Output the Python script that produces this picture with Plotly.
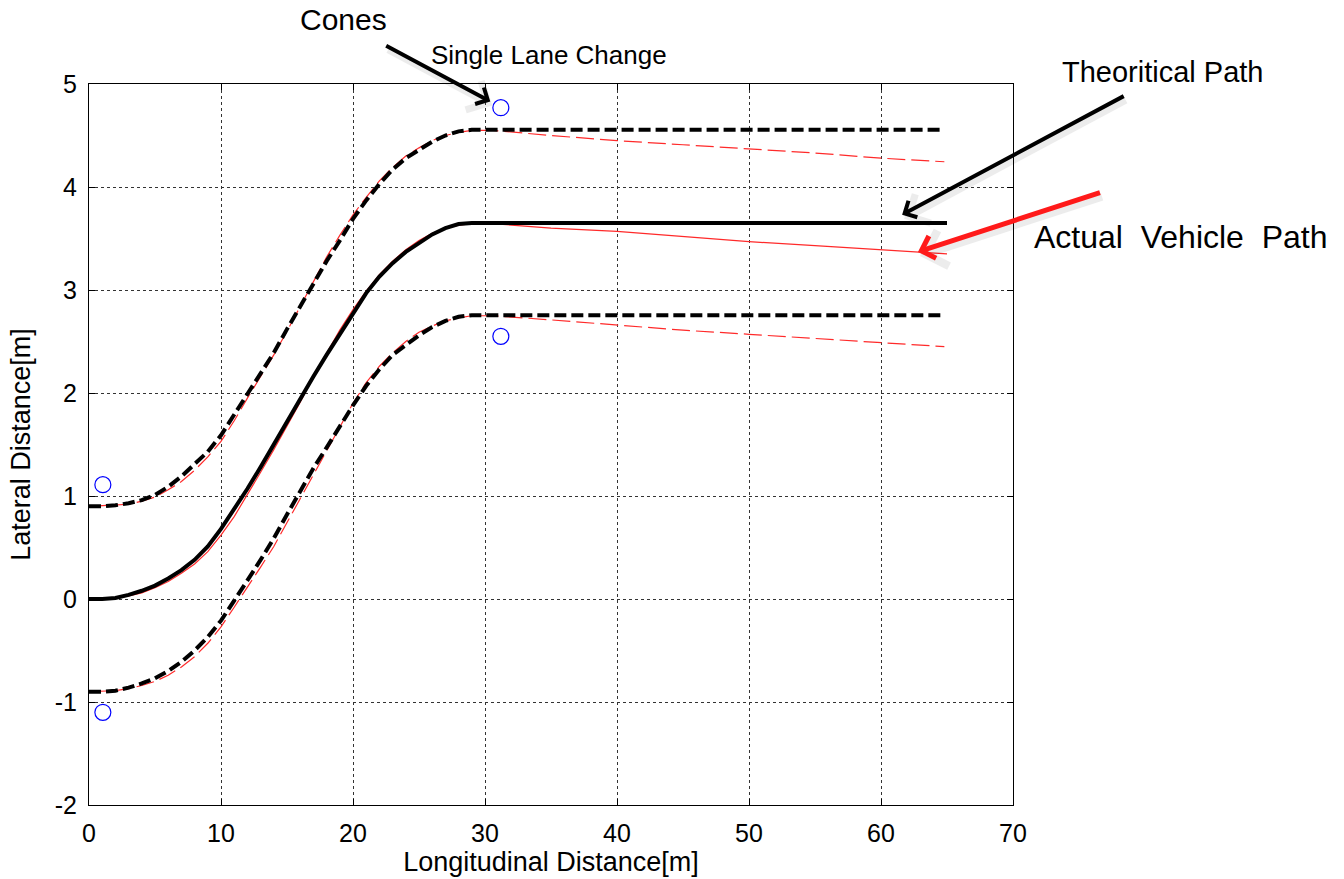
import plotly.graph_objects as go

# Theoretical single-lane-change path (centre line and lane boundaries), metres
theory_x = [0, 1, 2, 3, 4, 5, 6, 7, 8, 9, 10, 11, 12, 13, 14, 15, 16, 17, 18, 19,
            20, 21, 22, 23, 24, 25, 26, 27, 28, 29, 65]
theory_center = [0.00, 0.00, 0.01, 0.04, 0.08, 0.13, 0.20, 0.28, 0.38, 0.51, 0.68,
                 0.87, 1.07, 1.28, 1.50, 1.73, 1.94, 2.16, 2.37, 2.57, 2.78, 2.97,
                 3.13, 3.26, 3.37, 3.46, 3.54, 3.60, 3.64, 3.65, 3.65]

bound_x = [0, 1, 2, 3, 4, 5, 6, 7, 8, 9, 10, 11, 12, 13, 14, 15, 16, 17, 18, 19,
           20, 21, 22, 23, 24, 25, 26, 27, 28, 29, 64.5]
theory_upper = [0.90, 0.90, 0.91, 0.93, 0.96, 1.01, 1.09, 1.19, 1.31, 1.43, 1.59,
                1.79, 2.00, 2.20, 2.39, 2.62, 2.84, 3.06, 3.28, 3.48, 3.69, 3.87,
                4.03, 4.17, 4.28, 4.36, 4.44, 4.50, 4.54, 4.555, 4.555]
theory_lower = [-0.90, -0.90, -0.89, -0.86, -0.82, -0.77, -0.70, -0.61, -0.50, -0.37,
                -0.21, -0.02, 0.18, 0.38, 0.59, 0.82, 1.05, 1.27, 1.47, 1.68, 1.88,
                2.07, 2.23, 2.37, 2.47, 2.56, 2.64, 2.70, 2.74, 2.755, 2.755]

# Measured vehicle path (centre and the matching lane edges), metres
actual_x = [0, 2, 3, 4, 5, 6, 7, 8, 9, 10, 11, 12, 13, 14, 15, 16, 17, 18, 19, 20,
            21, 22, 23, 24, 25, 26, 27, 28, 29, 30, 31, 33, 35, 40, 45, 50, 55, 60, 65]
actual_center = [0.00, 0.01, 0.03, 0.06, 0.11, 0.17, 0.25, 0.34, 0.46, 0.62, 0.80,
                 1.01, 1.23, 1.45, 1.68, 1.91, 2.16, 2.39, 2.61, 2.81, 2.99, 3.15,
                 3.28, 3.39, 3.48, 3.55, 3.60, 3.63, 3.645, 3.65, 3.64, 3.62, 3.60,
                 3.57, 3.52, 3.47, 3.43, 3.39, 3.35]

edge_x = [0, 2, 3, 4, 5, 6, 7, 8, 9, 10, 11, 12, 13, 14, 15, 16, 17, 18, 19, 20,
          21, 22, 23, 24, 25, 26, 27, 28, 29, 30.6, 35, 40, 45, 50, 55, 60, 64.8]
actual_upper = [0.90, 0.91, 0.92, 0.95, 0.99, 1.06, 1.14, 1.25, 1.38, 1.53, 1.73,
                1.95, 2.16, 2.37, 2.60, 2.84, 3.08, 3.32, 3.53, 3.73, 3.90, 4.06,
                4.19, 4.30, 4.38, 4.45, 4.50, 4.53, 4.55, 4.55, 4.50, 4.45, 4.41,
                4.37, 4.33, 4.28, 4.245]
actual_lower = [-0.90, -0.89, -0.87, -0.84, -0.80, -0.74, -0.66, -0.56, -0.43, -0.27,
                -0.08, 0.11, 0.31, 0.51, 0.74, 0.98, 1.21, 1.44, 1.67, 1.90, 2.10,
                2.26, 2.39, 2.50, 2.59, 2.65, 2.70, 2.73, 2.75, 2.75, 2.71, 2.66,
                2.61, 2.57, 2.53, 2.49, 2.45]

# Cone positions
cone_x = [1.05, 1.05, 31.2, 31.2]
cone_y = [1.11, -1.10, 4.77, 2.55]

# Tick labels
x_ticks = [0, 10, 20, 30, 40, 50, 60, 70]
x_tick_text = ["0", "10", "20", "30", "40", "50", "60", "70"]
y_ticks = [-2, -1, 0, 1, 2, 3, 4, 5]
y_tick_text = ["-2", "-1", "0", "1", "2", "3", "4", "5"]

FONT = "Liberation Sans, Arial, Helvetica, sans-serif"

fig = go.Figure()

fig.add_trace(go.Scatter(x=edge_x, y=actual_upper, mode="lines",
                         line=dict(color="#ff2a2a", width=1.2, dash="18px,6px")))
fig.add_trace(go.Scatter(x=edge_x, y=actual_lower, mode="lines",
                         line=dict(color="#ff2a2a", width=1.2, dash="18px,6px")))
fig.add_trace(go.Scatter(x=actual_x, y=actual_center, mode="lines",
                         line=dict(color="#ff2a2a", width=1.2)))

fig.add_trace(go.Scatter(x=bound_x, y=theory_upper, mode="lines",
                         line=dict(color="black", width=4, dash="12px,5px")))
fig.add_trace(go.Scatter(x=bound_x, y=theory_lower, mode="lines",
                         line=dict(color="black", width=4, dash="12px,5px")))
fig.add_trace(go.Scatter(x=theory_x, y=theory_center, mode="lines",
                         line=dict(color="black", width=4)))

fig.add_trace(go.Scatter(x=cone_x, y=cone_y, mode="markers",
                         marker=dict(symbol="circle-open", size=16,
                                     color="blue", line=dict(width=1.2, color="blue"))))

axis_common = dict(
    showline=True, linecolor="black", linewidth=1, mirror="ticks",
    ticks="inside", ticklen=6, tickcolor="black", automargin=False,
    showgrid=True, gridcolor="#333333", gridwidth=1, griddash="3px,3px",
    zeroline=False,
    tickfont=dict(family=FONT, size=25, color="black"),
)

fig.update_xaxes(range=[0, 70], tickvals=x_ticks, ticktext=x_tick_text,
                 ticklabelstandoff=6,
                 title=dict(text="Longitudinal Distance[m]", standoff=4,
                            font=dict(family=FONT, size=27, color="black")),
                 **axis_common)
fig.update_yaxes(range=[-2, 5], tickvals=y_ticks, ticktext=y_tick_text,
                 ticklabelstandoff=6,
                 title=dict(text="Lateral Distance[m]", standoff=16,
                            font=dict(family=FONT, size=27, color="black")),
                 **axis_common)

annotations = [
    dict(text="Single Lane Change", xref="paper", yref="paper", x=0.4978, y=1.0402,
         xanchor="center", yanchor="middle", showarrow=False,
         font=dict(family=FONT, size=26, color="black")),
    dict(text="Cones", xref="paper", yref="paper", x=0.2749, y=1.0888,
         xanchor="center", yanchor="middle", showarrow=False,
         font=dict(family=FONT, size=30, color="black")),
    dict(text="Theoritical Path", xref="paper", yref="paper", x=1.1623, y=1.0166,
         xanchor="center", yanchor="middle", showarrow=False,
         font=dict(family=FONT, size=29, color="black")),
    dict(text="Actual  Vehicle  Path", xref="paper", yref="paper", x=1.1818, y=0.7878,
         xanchor="center", yanchor="middle", showarrow=False,
         font=dict(family=FONT, size=32, color="black")),
]

# Pointer arrows: (head_x, head_y, tail_x, tail_y, colour, width)
arrows = [
    (30.4, 4.83, 22.4, 5.38, "black", 4),
    (61.6, 3.73, 78.5, 4.89, "black", 4),
    (62.8, 3.37, 76.7, 3.95, "#ff1a1a", 5),
]
for hx, hy, tx, ty, col, w in arrows:
    # soft drop shadow beneath each pointer
    annotations.append(dict(x=hx, y=hy, ax=tx, ay=ty, xref="x", yref="y",
                            axref="x", ayref="y", text="", showarrow=True,
                            arrowhead=4, arrowsize=0.9, arrowwidth=w + 3,
                            arrowcolor="rgba(0,0,0,0.07)", xshift=2, yshift=-4))
    annotations.append(dict(x=hx, y=hy, ax=tx, ay=ty, xref="x", yref="y",
                            axref="x", ayref="y", text="", showarrow=True,
                            arrowhead=4, arrowsize=0.9, arrowwidth=w,
                            arrowcolor=col))

fig.update_layout(
    width=1344, height=879,
    margin=dict(l=89, r=331, t=84, b=74),
    paper_bgcolor="white", plot_bgcolor="white",
    showlegend=False,
    annotations=annotations,
)

fig.write_html("out.html")
